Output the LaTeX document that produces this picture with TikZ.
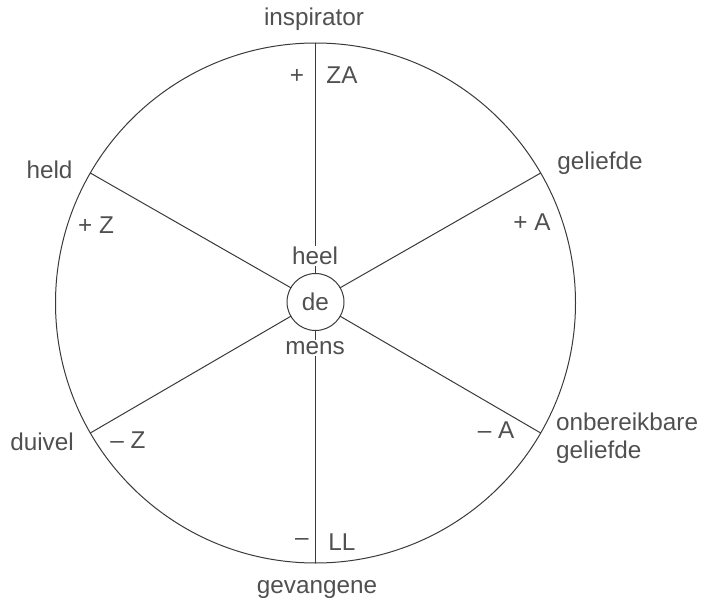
\documentclass[tikz,border=0pt]{standalone}
\usepackage{fontspec}
\setmainfont{Liberation Sans}
\definecolor{ink}{HTML}{3A3A3A}
\definecolor{txt}{HTML}{505050}
\begin{document}
\begin{tikzpicture}[x=1pt,y=-1pt,
  lbl/.style={text=txt,font=\fontsize{24.3}{27.5}\selectfont,inner sep=1pt},
  ring/.style={draw=ink,line width=1pt,circle,inner sep=0pt,outer sep=0pt},
  spoke/.style={draw=ink,line width=1pt}]
\useasboundingbox (0,0) rectangle (705,602);
\node[ring,minimum size=520pt] (O) at (315.5,303) {};
\node[ring,minimum size=57pt,lbl,inner sep=0pt] (de) at (315.5,302) {de};
\foreach \a in {90,150,210,270,330,30}{
  \draw[spoke] (O.\a) -- (de.\a);
}
\node[lbl,fill=white,inner sep=1pt] (heel) at (315,256) {heel};
\node[lbl,fill=white,inner sep=1pt] (mens) at (315,348) {mens};
\node[lbl] (insp) at (314,19) {inspirator};
\node[lbl] (p1) at (297,76) {+};
\node[lbl] (za) at (342,75) {ZA};
\node[lbl] (held) at (49.5,170) {held};
\node[lbl] (pz) at (96,225) {+ Z};
\node[lbl] (gel) at (600,163) {geliefde};
\node[lbl] (pa) at (532,222) {+ A};
\node[lbl] (duiv) at (42,442) {duivel};
\node[lbl] (mz) at (128,440) {– Z};
\node[lbl] (ma) at (496,430) {– A};
\node[lbl,anchor=west,align=left] (onb) at (555,438) {onbereikbare\\geliefde};
\node[lbl] (m2) at (302,542) {–};
\node[lbl] (ll) at (342,542) {LL};
\node[lbl] (gev) at (317,589) {gevangene};
\end{tikzpicture}
\end{document}
